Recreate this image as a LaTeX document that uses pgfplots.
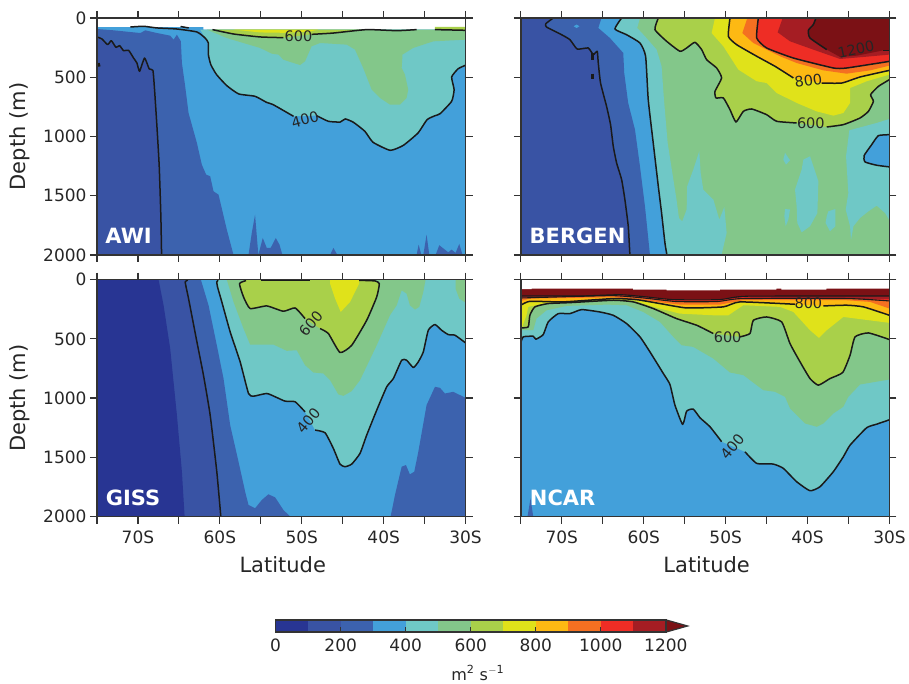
\documentclass[border=0pt]{standalone}
\usepackage{fontspec}
\setmainfont{DejaVu Sans}
\usepackage{pgfplots}
\pgfplotsset{compat=1.18}
\definecolor{axc}{HTML}{333333}
\definecolor{txc}{HTML}{262626}
\definecolor{ca}{HTML}{283593}
\definecolor{cb}{HTML}{3953A4}
\definecolor{cc}{HTML}{3C62AE}
\definecolor{cd}{HTML}{43A0DA}
\definecolor{ce}{HTML}{6FC8C6}
\definecolor{cf}{HTML}{83C78A}
\definecolor{cg}{HTML}{A9D04A}
\definecolor{ch}{HTML}{E0E21A}
\definecolor{ci}{HTML}{FDB913}
\definecolor{cj}{HTML}{F47021}
\definecolor{ck}{HTML}{EE2D25}
\definecolor{cl}{HTML}{A51D23}
\definecolor{cm}{HTML}{7B1115}
\definecolor{ctc}{HTML}{1A1A1A}
\tikzset{
  ct/.style={draw=ctc,line width=1.5pt,line join=round,smooth,tension=0.3},
  fl/.style={fill=#1,draw=none},
  clab/.style={font=\fontsize{14.5}{16}\selectfont,text=txc,inner sep=0pt},
  pn/.style={font=\fontsize{21}{24}\selectfont\bfseries,text=white,inner sep=0pt},
}
\pgfplotsset{
  panel/.style={scale only axis,width=368.7pt,height=237pt,
    xmin=-75,xmax=-30,ymin=0,ymax=2000,y dir=reverse,axis on top,
    xtick={-75,-70,...,-30},ytick={0,500,...,2000},
    tick align=outside,tick pos=both,major tick length=7pt,
    tick style={color=axc,line width=1.2pt},
    axis line style={color=axc,line width=1.4pt},
    tick label style={font=\fontsize{17}{20}\selectfont,text=txc},
    xticklabel style={yshift=-4pt},
    /pgf/number format/assume math mode=true,
    /pgf/number format/1000 sep={},
    every axis y label/.style={at={(axis description cs:-0.209,0.5)},anchor=center,rotate=90,font=\fontsize{21}{24}\selectfont,text=txc},
    every axis x label/.style={at={(axis description cs:0.504,-0.204)},anchor=center,font=\fontsize{21}{24}\selectfont,text=txc},
    xticklabels={{},70S,{},60S,{},50S,{},40S,{},30S},
  },
}
\begin{document}
\begin{tikzpicture}[x=1pt,y=1pt]
\path (0,0) rectangle (909,683);
% AWI
\begin{axis}[panel,at={(97pt,428pt)},anchor=south west,xticklabel=\empty,ylabel={Depth (m)}]
\addplot[fl=cd] coordinates {(-75,78)(-62,78)(-62,98)(-33.6,98)(-33.6,78)(-30,78)(-30,2000)(-75,2000)} --cycle;
\addplot[fl=ce] coordinates {(-62.4,98)(-61.8,169)(-61.4,211)(-61.4,309)(-61.1,394)(-60.4,478)(-59.15,571)(-57.7,641)(-55.7,661)(-54.3,712)(-53.5,731)(-51,830)(-48.2,824)(-46.75,872)(-45.3,878)(-44.7,852)(-43.7,880)(-42.3,956)(-41.3,1049)(-39.2,1117)(-37.6,1075)(-35.8,970)(-34.7,858)(-33.7,824)(-33.1,807)(-31.7,703)(-31.4,605)(-31.7,498)(-30.9,428)(-30,399)(-30,98)} --cycle;
\addplot[fl=cc] coordinates {(-75,93)(-72.97,104)(-69.7,127)(-69.1,104)(-67.68,127)(-66.06,149)(-65.65,183)(-65.24,141)(-64.76,197)(-64.63,380)(-64.23,577)(-63.82,802)(-62.8,1055)(-62.2,1238)(-61.67,1322)(-61.18,1336)(-60.77,1463)(-60.16,1491)(-59.15,1786)(-58.33,2000)(-75,2000)} --cycle;
\addplot[fl=cc] coordinates {(-56.5,2000)(-56.1,1814)(-55.7,1660)(-55.3,2000)(-54.76,1857)(-54.27,1941)(-53.8,1941)(-53.17,1857)(-52.72,1913)(-52.36,2000)} --cycle;
\addplot[fl=cc] coordinates {(-46.54,2000)(-46.14,1941)(-45.65,2000)} --cycle;
\addplot[fl=cc] coordinates {(-35.98,2000)(-35.73,1913)(-35.4,2000)} --cycle;
\addplot[fl=cc] coordinates {(-35.16,2000)(-34.76,1828)(-34.43,2000)} --cycle;
\addplot[fl=cc] coordinates {(-33.66,2000)(-33.21,1918)(-32.11,1978)(-31.71,1955)(-31.22,1983)(-30.77,1907)(-30.37,2000)} --cycle;
\addplot[fl=cb] coordinates {(-75,160)(-74.39,177)(-73.7,225)(-73.25,191)(-72.68,248)(-72.24,233)(-71.75,276)(-71.14,273)(-70.53,338)(-70.12,380)(-69.8,450)(-69.19,338)(-68.62,430)(-68.17,442)(-67.97,605)(-67.68,914)(-67.4,1252)(-67.2,1674)(-67.11,2000)(-75,2000)} --cycle;
\addplot[fl=cf] coordinates {(-61.59,98)(-59.15,169)(-57.52,203)(-55.08,253)(-53.66,301)(-52.85,309)(-52.24,352)(-51,380)(-50.2,397)(-49.6,366)(-48.8,239)(-47.76,211)(-44.5,225)(-43.5,267)(-42.5,422)(-41.46,605)(-40.45,675)(-39.23,731)(-38,731)(-37.2,675)(-37,605)(-37.4,478)(-37.8,422)(-37.7,309)(-36.4,253)(-33.94,197)(-30,183)(-30,98)} --cycle;
\addplot[fl=cg] coordinates {(-60.9,98)(-58.33,135)(-55.08,160)(-52.24,166)(-48.8,138)(-46.14,127)(-42.07,98)} --cycle;
\addplot[fl=ch] coordinates {(-58.33,98)(-55.08,122)(-52.24,125)(-49,115)(-48,98)} --cycle;
\addplot[fl=cg] coordinates {(-33.74,76)(-30,76)(-30,104)(-33.74,98)} --cycle;
\addplot[ct] coordinates {(-70.93,76)(-69.3,70)(-67.68,84)(-65.24,93)(-62.8,118)(-61.8,169)(-61.4,211)(-61.4,309)(-61.1,394)(-60.4,478)(-59.15,571)(-57.7,641)(-55.7,661)(-54.3,712)(-53.5,731)(-51,830)};
\addplot[ct] coordinates {(-48.2,824)(-46.75,872)(-45.3,878)(-44.7,852)(-43.7,880)(-42.3,956)(-41.3,1049)(-39.2,1117)(-37.6,1075)(-35.8,970)(-34.7,858)(-33.7,824)(-33.1,807)(-31.7,703)(-31.4,605)(-31.7,498)(-30.9,428)(-30,399)};
\addplot[ct] coordinates {(-64.8,72)(-63.8,84)};
\addplot[ct] coordinates {(-60.9,98)(-58.33,135)(-55.08,160)(-52.24,166)};
\addplot[ct] coordinates {(-48.8,138)(-46.14,127)(-42.07,98)(-38.4,107)(-35.98,98)};
\addplot[ct] coordinates {(-33.74,98)(-30,104)};
\addplot[ct] coordinates {(-75,160)(-74.39,177)(-73.7,225)(-73.25,191)(-72.68,248)(-72.24,233)(-71.75,276)(-71.14,273)(-70.53,338)(-70.12,380)(-69.8,450)(-69.19,338)(-68.62,430)(-68.17,442)(-67.97,605)(-67.68,914)(-67.4,1252)(-67.2,1674)(-67.11,2000)};
\addplot[ct,line width=2.2pt] coordinates {(-74.8,380)(-74.7,410)};
\node[clab,rotate=15] at (axis cs:-49.6,858) {400};
\node[clab] at (axis cs:-50.4,150) {600};
\node[pn] at (axis cs:-71.14,1843) {AWI};
\end{axis}
% BERGEN
\begin{axis}[panel,at={(521pt,428pt)},anchor=south west,xticklabel=\empty,yticklabel=\empty]
\addplot[fl=cf] coordinates {(-75,0)(-30,0)(-30,2000)(-75,2000)} --cycle;
\addplot[fl=ce] coordinates {(-60.46,0)(-60.8,84)(-59.85,155)(-58.43,267)(-57.82,408)(-57.53,689)(-57.08,1055)(-56,1533)(-55.7,1688)(-55.3,1716)(-54.76,1617)(-54.7,1421)(-53.95,1280)(-53.22,1125)(-53.05,1308)(-52.73,1449)(-51.5,1533)(-50.77,1702)(-50.16,1595)(-49.88,1814)(-50.5,2000)(-75,2000)(-75,0)} --cycle;
\addplot[fl=ce] coordinates {(-30,852)(-31.56,886)(-34.9,948)(-35.3,1167)(-35.02,1477)(-35.34,1617)(-34.81,1758)(-34.69,1871)(-34.4,1758)(-33.59,1688)(-32.57,1632)(-31.56,1584)(-30.54,1646)(-30,1708)} --cycle;
\addplot[fl=ce] coordinates {(-42.75,1139)(-42.14,1201)(-42.63,1238)(-42.96,1196)} --cycle;
\addplot[fl=ce] coordinates {(-39.7,1167)(-38.68,1378)(-38.8,1646)(-39.7,1758)(-40.72,1809)(-41.25,1730)(-41.33,1589)(-41.53,1449)(-40.72,1280)(-40.51,1196)} --cycle;
\addplot[fl=ce] coordinates {(-42.75,1612)(-42.14,1617)(-42.35,1702)(-42.67,1758)(-42.83,1674)} --cycle;
\addplot[fl=ce] coordinates {(-37.46,1632)(-36.6,1612)(-36.6,1758)(-37.26,1800)(-37.8,1730)(-37.66,1674)} --cycle;
\addplot[fl=cd] coordinates {(-62.7,0)(-63.52,93)(-62.1,141)(-60.46,211)(-59.77,323)(-59.45,689)(-58.84,1055)(-58.22,1421)(-57.82,1646)(-57.41,1899)(-57.17,2000)(-75,2000)(-75,0)} --cycle;
\addplot[fl=cd] coordinates {(-30,985)(-31.35,993)(-32.17,1069)(-33.1,1162)(-32.98,1215)(-31.56,1243)(-30,1257)} --cycle;
\addplot[fl=cc] coordinates {(-65.15,0)(-65.55,84)(-64.13,169)(-62.5,295)(-62.38,464)(-61.9,717)(-61.07,942)(-60.46,1252)(-59.85,1589)(-59.24,2000)(-75,2000)(-75,0)} --cycle;
\addplot[fl=cd] coordinates {(-68.55,70)(-68.2,55)(-67.85,70)(-68.2,85)} --cycle;
\addplot[fl=cb] coordinates {(-71.05,0)(-71.95,48)(-71.87,76)(-70.03,141)(-69.01,183)(-68.12,262)(-66.78,253)(-66.16,309)(-65.68,281)(-65.55,380)(-65.27,549)(-64.54,745)(-64.05,900)(-63.72,1083)(-63.31,1224)(-62.7,1364)(-62.3,1533)(-61.89,1758)(-61.69,2000)(-75,2000)(-75,0)} --cycle;
\addplot[fl=cg] coordinates {(-58.22,0)(-58.63,98)(-57.2,197)(-55.58,281)(-54.76,253)(-53.75,205)(-52.93,267)(-52.32,352)(-51.1,422)(-50.49,506)(-51.3,619)(-51.18,675)(-50.28,675)(-49.47,774)(-48.74,878)(-47.84,788)(-46.82,768)(-45,816)(-43.77,872)(-41.33,886)(-37.66,920)(-35.63,900)(-33.59,844)(-32.57,788)(-31.96,703)(-32.3,647)(-31.35,577)(-30,520)(-30,0)} --cycle;
\addplot[fl=ch] coordinates {(-51.3,0)(-51.71,127)(-50.28,239)(-48.45,436)(-46.21,534)(-45,549)(-43.77,633)(-41.33,717)(-38.9,788)(-36.85,824)(-35.63,802)(-34.81,717)(-34.81,591)(-32.78,534)(-30,478)(-30,0)} --cycle;
\addplot[fl=ci] coordinates {(-49.47,0)(-49.67,155)(-48.66,225)(-46.21,323)(-43.97,408)(-41.73,506)(-38.27,549)(-35.83,549)(-33.59,498)(-30,442)(-30,0)} --cycle;
\addplot[fl=cj] coordinates {(-47.35,0)(-47.96,127)(-46.62,211)(-43.36,323)(-41.33,380)(-38.07,442)(-35.22,470)(-32.37,442)(-30,402)(-30,0)} --cycle;
\addplot[fl=ck] coordinates {(-46.01,0)(-46.21,169)(-45,253)(-41.73,338)(-36.85,422)(-35.22,422)(-30,366)(-30,0)} --cycle;
\addplot[fl=cl] coordinates {(-43.04,0)(-43.65,121)(-42.14,197)(-39.3,267)(-36.03,346)(-33.18,329)(-30,309)(-30,0)} --cycle;
\addplot[fl=cm] coordinates {(-38.97,0)(-39.3,56)(-39.9,104)(-39.7,169)(-37.66,267)(-36.03,329)(-34,318)(-30.74,273)(-30,273)(-30,0)} --cycle;
\addplot[ct] coordinates {(-71.05,0)(-71.95,48)(-71.87,76)(-70.03,141)(-69.01,183)(-68.12,262)(-66.78,253)(-66.16,309)(-65.68,281)(-65.55,380)(-65.27,549)(-64.54,745)(-64.05,900)(-63.72,1083)(-63.31,1224)(-62.7,1364)(-62.3,1533)(-61.89,1758)(-61.69,2000)};
\addplot[ct,line width=2.2pt] coordinates {(-66.25,295)(-66.25,352)};
\addplot[ct,line width=2.2pt] coordinates {(-66.25,470)(-66.25,515)};
\addplot[ct] coordinates {(-62.7,0)(-63.52,93)(-62.1,141)(-60.46,211)(-59.77,323)(-59.45,689)(-58.84,1055)(-58.22,1421)(-57.82,1646)(-57.41,1899)(-57.17,2000)};
\addplot[ct] coordinates {(-30,985)(-31.35,993)(-32.17,1069)(-33.1,1162)(-32.98,1215)(-31.56,1243)(-30,1257)};
\addplot[ct] coordinates {(-58.22,0)(-58.63,98)(-57.2,197)(-55.58,281)(-54.76,253)(-53.75,205)(-52.93,267)(-52.32,352)(-51.1,422)(-50.49,506)(-51.3,619)(-51.18,675)(-50.28,675)(-49.47,774)(-48.74,878)(-47.84,788)(-46.82,768)(-45,816)(-43.77,872)(-41.33,886)};
\addplot[ct] coordinates {(-37.66,920)(-35.63,900)(-33.59,844)(-32.57,788)(-31.96,703)(-32.3,647)(-31.35,577)(-30,520)};
\addplot[ct] coordinates {(-49.47,0)(-49.67,155)(-48.66,225)(-46.21,323)(-43.97,408)(-41.73,506)};
\addplot[ct] coordinates {(-38.27,549)(-35.83,549)(-33.59,498)(-30,442)};
\addplot[ct] coordinates {(-46.01,0)(-46.21,169)(-45,253)(-41.73,338)(-36.85,422)(-35.22,422)(-30,366)};
\addplot[ct] coordinates {(-38.97,0)(-39.3,56)(-39.9,104)(-39.7,169)(-37.66,267)};
\addplot[ct] coordinates {(-30.74,273)(-30,273)};
\node[clab,rotate=12] at (axis cs:-34.08,262) {1200};
\node[clab,rotate=8] at (axis cs:-39.9,529) {800};
\node[clab] at (axis cs:-39.6,892) {600};
\node[pn] at (axis cs:-68.08,1843) {BERGEN};
\end{axis}
% GISS
\begin{axis}[panel,at={(97pt,166.3pt)},anchor=south west,xlabel={Latitude},ylabel={Depth (m)}]
\addplot[fl=cd] coordinates {(-75,0)(-30,0)(-30,2000)(-75,2000)} --cycle;
\addplot[fl=ce] coordinates {(-60.37,0)(-60.28,62)(-59.76,188)(-58.74,441)(-57.52,694)(-56.5,961)(-55.9,984)(-54.27,961)(-53.05,995)(-52.03,1026)(-50.81,1031)(-49.6,1116)(-48.37,1270)(-47.15,1293)(-46.14,1425)(-45.33,1557)(-44.72,1579)(-43.9,1557)(-42.89,1467)(-42.07,1312)(-40.85,1102)(-39.63,905)(-38.82,835)(-37.8,680)(-37.2,680)(-36.38,742)(-35.77,694)(-35.16,610)(-34.55,427)(-33.74,379)(-32.93,427)(-32.11,464)(-31.3,469)(-30,534)(-30,0)} --cycle;
\addplot[fl=cc] coordinates {(-62.32,0)(-61.38,216)(-60.37,554)(-59.55,835)(-58.74,1228)(-57.72,1537)(-56.91,1790)(-56.5,1902)(-55.7,1930)(-54.88,1860)(-54.07,1812)(-53.25,1838)(-52.24,1944)(-51.42,2000)(-75,2000)(-75,0)} --cycle;
\addplot[fl=cc] coordinates {(-39.15,2000)(-38.62,1818)(-37.8,1579)(-37.28,1565)(-36.8,1644)(-36.26,1621)(-35.77,1453)(-34.76,1059)(-33.74,905)(-33.13,913)(-32.52,961)(-31.5,947)(-30,998)(-30,2000)} --cycle;
\addplot[fl=cb] coordinates {(-64.23,0)(-63.82,160)(-62.8,525)(-62,806)(-61.18,1144)(-60.37,1621)(-59.88,2000)(-75,2000)(-75,0)} --cycle;
\addplot[fl=ca] coordinates {(-67.48,0)(-66.87,216)(-66.06,582)(-65.24,1144)(-64.63,1621)(-64.3,2000)(-75,2000)(-75,0)} --cycle;
\addplot[fl=cf] coordinates {(-59.15,0)(-58.33,188)(-57.11,413)(-56.3,548)(-53.46,548)(-51.83,601)(-50.61,596)(-49.6,722)(-48.58,784)(-47.36,792)(-46.54,849)(-45.53,969)(-44.92,981)(-43.9,941)(-42.89,849)(-40.85,554)(-39.23,301)(-38.41,216)(-37.8,90)(-37.2,118)(-36.8,216)(-36.18,253)(-35.65,230)(-35.16,104)(-34.88,0)} --cycle;
\addplot[fl=cf] coordinates {(-31.22,0)(-31.22,76)(-30.77,160)(-30,194)(-30,0)} --cycle;
\addplot[fl=cg] coordinates {(-56.8,0)(-57.6,34)(-57.11,146)(-56.3,244)(-54.27,222)(-52.24,267)(-50.81,239)(-49.6,329)(-47.76,413)(-46.75,455)(-45.33,615)(-43.9,554)(-42.07,343)(-40.85,146)(-40.53,34)(-41.06,11)(-41.5,0)} --cycle;
\addplot[fl=ch] coordinates {(-46.54,0)(-46.54,34)(-45.93,160)(-45.24,273)(-44.1,188)(-43,34)(-43,0)} --cycle;
\addplot[ct] coordinates {(-63.9,5)(-64.23,20)(-63.82,160)(-62.8,525)(-62,806)(-61.18,1144)(-60.37,1621)(-59.88,2000)};
\addplot[ct] coordinates {(-60.2,5)(-60.37,20)(-60.28,62)(-59.76,188)(-58.74,441)(-57.52,694)(-56.5,961)(-55.9,984)(-54.27,961)(-53.05,995)(-52.03,1026)(-50.81,1031)(-49.6,1116)};
\addplot[ct] coordinates {(-48.37,1270)(-47.15,1293)(-46.14,1425)(-45.33,1557)(-44.72,1579)(-43.9,1557)(-42.89,1467)(-42.07,1312)(-40.85,1102)(-39.63,905)(-38.82,835)(-37.8,680)(-37.2,680)(-36.38,742)(-35.77,694)(-35.16,610)(-34.55,427)(-33.74,379)(-32.93,427)(-32.11,464)(-31.3,469)(-30,534)};
\addplot[ct] coordinates {(-56.8,8)(-57.6,34)(-57.11,146)(-56.3,244)(-54.27,222)(-52.24,267)(-50.81,239)(-49.6,329)};
\addplot[ct] coordinates {(-47.76,413)(-46.75,455)(-45.33,615)(-43.9,554)(-42.07,343)(-40.85,146)(-40.53,34)(-41.06,11)(-43,6)};
\addplot[ct] coordinates {(-55,8)(-49,8)};
\node[clab,rotate=50] at (axis cs:-48.9,371) {600};
\node[clab,rotate=50] at (axis cs:-49.2,1186) {400};
\node[pn] at (axis cs:-70.6,1838) {GISS};
\end{axis}
% NCAR
\begin{axis}[panel,at={(521pt,166.3pt)},anchor=south west,xlabel={Latitude},yticklabel=\empty]
\addplot[fl=cd] coordinates {(-75,0)(-30,0)(-30,2000)(-75,2000)} --cycle;
\addplot[fl=cc] coordinates {(-74.19,2000)(-73.82,1846)(-73.49,2000)} --cycle;
\addplot[fl=ce] coordinates {(-75,531)(-74.71,483)(-73.49,478)(-73.17,503)(-72.27,464)(-71.66,357)(-70.44,287)(-69.01,287)(-67.59,253)(-65.35,273)(-63.72,301)(-62.09,371)(-60.46,483)(-59.24,610)(-57.61,792)(-56.8,885)(-56.19,1059)(-55.25,1222)(-54.76,1110)(-53.95,1093)(-53.13,1166)(-51.91,1242)(-50.49,1368)(-47.64,1453)(-46.21,1551)(-44.18,1557)(-42.96,1593)(-41.33,1706)(-39.7,1782)(-38.48,1748)(-36.85,1621)(-35.63,1495)(-34.81,1397)(-32.78,1250)(-31.56,1220)(-30,1183)(-30,0)(-75,0)} --cycle;
\addplot[fl=cf] coordinates {(-75,427)(-73.49,427)(-73.09,329)(-71.87,259)(-69.42,222)(-64.54,211)(-62.09,216)(-60.06,273)(-58.02,357)(-56.39,483)(-55.37,554)(-53.95,568)(-51.51,666)(-49.47,784)(-47.84,806)(-45.4,933)(-43.97,947)(-42.75,989)(-42.14,1087)(-40.31,1214)(-38.88,1242)(-38.07,1214)(-36.85,1130)(-35.63,1073)(-35.02,989)(-33.59,885)(-30,843)(-30,0)(-75,0)} --cycle;
\addplot[fl=cg] coordinates {(-75,407)(-74.1,399)(-73.9,301)(-73.29,230)(-71.66,202)(-69.01,194)(-63.72,174)(-61.28,188)(-58.84,244)(-55.99,329)(-53.54,385)(-51.51,455)(-48.25,483)(-47.03,455)(-46.62,343)(-45,315)(-43.16,357)(-42.14,540)(-40.92,694)(-39.7,835)(-38.68,891)(-37.26,835)(-35.71,784)(-34.81,638)(-34.2,483)(-32.57,450)(-30,506)(-30,0)(-75,0)} --cycle;
\addplot[fl=ch] coordinates {(-75,399)(-74.84,399)(-74.31,301)(-74.1,230)(-71.87,197)(-63.72,166)(-61.28,174)(-58.84,230)(-55.58,287)(-51.5,301)(-49.67,301)(-47.84,216)(-43.36,230)(-41.73,273)(-39.7,427)(-38.6,492)(-37.66,427)(-35.63,315)(-30,365)(-30,0)(-75,0)} --cycle;
\addplot[fl=ci] coordinates {(-75,216)(-73.9,183)(-69.83,188)(-63.72,160)(-60.87,169)(-58.02,202)(-54.76,239)(-50.28,230)(-48.25,188)(-41.53,208)(-38.07,222)(-35.22,216)(-33.18,230)(-30,301)(-30,0)(-75,0)} --cycle;
\addplot[fl=cj] coordinates {(-75,180)(-73.9,160)(-63.72,149)(-59.65,177)(-55.58,211)(-50.7,211)(-47.84,174)(-35.22,174)(-32.37,188)(-30,244)(-30,0)(-75,0)} --cycle;
\addplot[fl=ck] coordinates {(-75,155)(-64,135)(-60,155)(-56,185)(-51,185)(-48,160)(-35,160)(-30,180)(-30,0)(-75,0)} --cycle;
\addplot[fl=cl] coordinates {(-75,145)(-64,125)(-60,140)(-56,165)(-51,165)(-48,150)(-30,165)(-30,0)(-75,0)} --cycle;
\addplot[fl=cm] coordinates {(-75,138)(-67.8,138)(-62.9,127)(-59.65,146)(-56.4,169)(-50.7,169)(-47.4,140)(-30,138)(-30,0)(-75,0)} --cycle;
\addplot[fl=white] coordinates {(-75,0)(-75,81)(-73.7,81)(-73.7,76)(-67.8,76)(-61.3,76)(-61.3,84)(-57.2,84)(-57.2,90)(-50.7,90)(-50.7,84)(-43.8,84)(-43.8,76)(-43.2,76)(-43.2,84)(-37.7,84)(-37.7,76)(-30,76)(-30,0)} --cycle;
\addplot[ct] coordinates {(-75,531)(-74.71,483)(-73.49,478)(-73.17,503)(-72.27,464)(-71.66,357)(-70.44,287)(-69.01,287)(-67.59,253)(-65.35,273)(-63.72,301)(-62.09,371)(-60.46,483)(-59.24,610)(-57.61,792)(-56.8,885)(-56.19,1059)(-55.25,1222)(-54.76,1110)(-53.95,1093)(-53.13,1166)(-51.91,1242)(-50.49,1368)};
\addplot[ct] coordinates {(-47.64,1453)(-46.21,1551)(-44.18,1557)(-42.96,1593)(-41.33,1706)(-39.7,1782)(-38.48,1748)(-36.85,1621)(-35.63,1495)(-34.81,1397)(-32.78,1250)(-31.56,1220)(-30,1183)};
\addplot[ct] coordinates {(-75,407)(-74.1,399)(-73.9,301)(-73.29,230)(-71.66,202)(-69.01,194)(-63.72,174)(-61.28,188)(-58.84,244)(-55.99,329)(-53.54,385)(-51.51,455)};
\addplot[ct] coordinates {(-48.25,483)(-47.03,455)(-46.62,343)(-45,315)(-43.16,357)(-42.14,540)(-40.92,694)(-39.7,835)(-38.68,891)(-37.26,835)(-35.71,784)(-34.81,638)(-34.2,483)(-32.57,450)(-30,506)};
\addplot[ct] coordinates {(-75,216)(-73.9,183)(-69.83,188)(-63.72,160)(-60.87,169)(-58.02,202)(-54.76,239)(-50.28,230)(-48.25,188)(-41.53,208)};
\addplot[ct] coordinates {(-38.07,222)(-35.22,216)(-33.18,230)(-30,301)};
\addplot[ct,line width=1.1pt] coordinates {(-75,155)(-64,135)(-60,155)(-56,185)(-51,185)(-48,160)(-35,160)(-30,180)};
\addplot[ct,line width=1.1pt] coordinates {(-75,138)(-67.8,138)(-62.9,127)(-59.65,146)(-56.4,169)(-50.7,169)(-47.4,140)(-30,138)};
\node[clab,rotate=50] at (axis cs:-49.19,1411) {400};
\node[clab] at (axis cs:-49.76,483) {600};
\node[clab] at (axis cs:-39.9,197) {800};
\node[pn] at (axis cs:-69.9,1838) {NCAR};
\end{axis}
% colour bar
\begin{axis}[scale only axis,width=390.3pt,height=12.3pt,at={(275.7pt,50.7pt)},anchor=south west,
  xmin=0,xmax=1200,ymin=0,ymax=1,clip=false,axis on top,ytick=\empty,
  xtick={0,200,...,1200},xtick pos=bottom,tick align=inside,major tick length=5pt,
  tick style={color=axc,line width=1.2pt},axis line style={color=axc,line width=1.4pt},
  tick label style={font=\fontsize{17}{20}\selectfont,text=txc},
  xticklabel style={yshift=-3pt},
  /pgf/number format/assume math mode=true,/pgf/number format/1000 sep={},
  xlabel={m\textsuperscript{2} s\textsuperscript{$-$1}},
  every axis x label/.style={at={(axis description cs:0.518,-3.31)},anchor=center,font=\fontsize{16}{18}\selectfont,text=txc}]
\addplot[fl=ca] coordinates {(0,0)(100,0)(100,1)(0,1)} --cycle;
\addplot[fl=cb] coordinates {(100,0)(200,0)(200,1)(100,1)} --cycle;
\addplot[fl=cc] coordinates {(200,0)(300,0)(300,1)(200,1)} --cycle;
\addplot[fl=cd] coordinates {(300,0)(400,0)(400,1)(300,1)} --cycle;
\addplot[fl=ce] coordinates {(400,0)(500,0)(500,1)(400,1)} --cycle;
\addplot[fl=cf] coordinates {(500,0)(600,0)(600,1)(500,1)} --cycle;
\addplot[fl=cg] coordinates {(600,0)(700,0)(700,1)(600,1)} --cycle;
\addplot[fl=ch] coordinates {(700,0)(800,0)(800,1)(700,1)} --cycle;
\addplot[fl=ci] coordinates {(800,0)(900,0)(900,1)(800,1)} --cycle;
\addplot[fl=cj] coordinates {(900,0)(1000,0)(1000,1)(900,1)} --cycle;
\addplot[fl=ck] coordinates {(1000,0)(1100,0)(1100,1)(1000,1)} --cycle;
\addplot[fl=cl] coordinates {(1100,0)(1200,0)(1200,1)(1100,1)} --cycle;
\addplot[fill=cm,draw=axc,line width=1.2pt,line join=miter] coordinates {(1200,0)(1267,0.5)(1200,1)} --cycle;
\end{axis}
\end{tikzpicture}
\end{document}
